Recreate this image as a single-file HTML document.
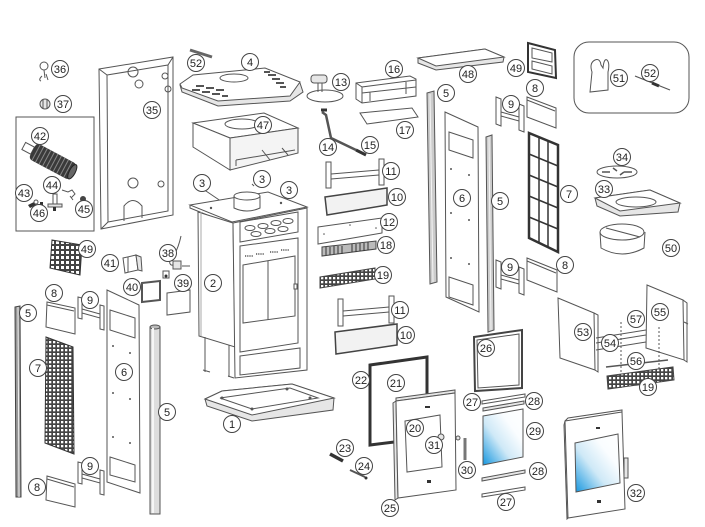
<!DOCTYPE html>
<html><head><meta charset="utf-8"><style>
html,body{margin:0;padding:0;background:#fff;}
svg{display:block;}
.p{fill:#fff;stroke:#555;stroke-width:1;}
.g{fill:#e6e6e6;stroke:#555;stroke-width:1;}
.d{fill:#999;stroke:#444;stroke-width:1;}
.n{fill:none;stroke:#555;stroke-width:1;}
.l circle{fill:#fff;stroke:#444;stroke-width:1;}
.l text{font-family:"Liberation Sans",sans-serif;font-size:11px;fill:#222;text-anchor:middle;}
</style></head><body>
<svg width="705" height="527" viewBox="0 0 705 527" xmlns="http://www.w3.org/2000/svg">
<defs>
<linearGradient id="gl" x1="0" y1="1" x2="1" y2="0">
<stop offset="0" stop-color="#1596df"/><stop offset="0.4" stop-color="#cfe9f7"/><stop offset="0.7" stop-color="#fafdff"/><stop offset="1" stop-color="#fff"/>
</linearGradient>
<pattern id="grid" width="4" height="4" patternUnits="userSpaceOnUse"><rect width="4" height="4" fill="#444"/><rect x="1" y="1" width="2.3" height="2.3" fill="#fff"/></pattern>
<pattern id="grid2" width="5" height="5" patternUnits="userSpaceOnUse"><rect width="5" height="5" fill="#444"/><rect x="1" y="1" width="3" height="3" fill="#fff"/></pattern>
</defs>

<circle cx="44" cy="66" r="4" class="p"/>
<path d="M44 70 L45 78 M42 76 Q38 80 41 81 M46 74 L48 80" class="n"/>
<ellipse cx="45" cy="104" rx="5" ry="5" class="g"/>
<path d="M43 99 L43 109 M47 99 L47 109" class="n"/>

<rect x="16" y="117" width="78" height="114" class="n"/>
<g transform="rotate(28 52 161)">
<rect x="20" y="157" width="10" height="8" class="p"/>
<rect x="30" y="152" width="46" height="18" rx="4" fill="#3a3a3a"/>
<path d="M34 152v18M38 152v18M42 152v18M46 152v18M50 152v18M54 152v18M58 152v18M62 152v18M66 152v18M70 152v18" stroke="#888" stroke-width="1"/>
<ellipse cx="75" cy="161" rx="3" ry="8" fill="#666" stroke="#222"/>
</g>
<path d="M28 205 l6 -3 l2 3 l-6 3 z" fill="#333"/>
<circle cx="36" cy="202" r="2" class="p"/>
<rect x="40" y="202" width="3" height="3" fill="#333"/>
<path d="M62 190 l6 2 l4 -2 l3 4 l-4 4 M70 196 l3 4" class="n"/>
<rect x="53" y="194" width="4" height="12" class="p"/>
<rect x="48" y="204" width="14" height="3" class="g"/>
<rect x="53" y="207" width="3" height="4" fill="#333"/>
<circle cx="83" cy="199" r="3" fill="#444"/>

<polygon points="99,69 173,57 173,215 101,229" class="p"/>
<polygon points="107,75 168,65 168,211 108,222" class="n"/>
<path d="M99 69 L107 75 M173 57 L168 65 M101 229 L108 222" class="n"/>
<circle cx="133" cy="72" r="5" class="n"/><circle cx="139" cy="84" r="4" class="n"/>
<circle cx="165" cy="76" r="3" class="n"/><circle cx="168" cy="89" r="3" class="n"/>
<circle cx="133" cy="183" r="5" class="n"/><circle cx="161" cy="184" r="3" class="n"/>
<path d="M124 221 L124 206 Q133 195 142 206 L142 218" class="n"/>

<line x1="190" y1="50" x2="212" y2="57" stroke="#666" stroke-width="3"/>
<polygon points="180,85 193,76 265,69 300,83 303,92 290,101 218,106 182,92" class="g"/>
<polygon points="180,84 193,75 265,68 300,82 290,96 218,101 182,88" class="p"/>
<ellipse cx="234" cy="78" rx="14" ry="4" class="p"/>
<path d="M192 90h8M202 92h8M212 94h8M196 86h8M206 88h8M216 90h8M268 75h8M272 79h8M276 83h8M264 72h6M280 87h6M222 96h6" stroke="#555" stroke-width="2"/>

<polygon points="193,123 264,113 298,128 230,138" class="p"/>
<polygon points="193,123 230,138 230,170 193,147" class="p"/>
<polygon points="230,138 298,128 298,153 230,170" fill="#f4f4f4" stroke="#555"/>
<path d="M236 160 L295 150 M236 160 L236 166 M262 150 L270 160 M282 148 L288 155" class="n"/>
<ellipse cx="242" cy="124" rx="17" ry="5" class="p"/>

<rect x="311" y="75" width="16" height="8" rx="3" class="g"/>
<ellipse cx="325" cy="96" rx="18" ry="6" class="p"/>
<path d="M318 83 L318 92 M322 83 L322 92" class="n"/>
<path d="M322 112 L326 115 L331 138 L356 150" stroke="#555" stroke-width="2.5" fill="none"/>
<path d="M321 110 h6" stroke="#333" stroke-width="3"/>
<line x1="356" y1="150" x2="366" y2="155" stroke="#333" stroke-width="3"/>
<polygon points="356,83 410,76 416,79 416,96 362,103 356,99" class="p"/>
<path d="M362 103 L362 87 L416 80 M362 93 L416 87 M356 83 L362 87 M370 92 L370 101 M406 82 L406 94" class="n"/>
<polygon points="360,113 412,108 418,117 367,124" class="p"/>
<rect x="326" y="162" width="5" height="26" class="p"/>
<rect x="379" y="159" width="5" height="26" class="p"/>
<path d="M331 174 L379 170 M331 179 L379 175" class="n"/>
<polygon points="325,197 387,188 387,205 327,215" fill="#f2f2f2" stroke="#444" stroke-width="1.5"/>
<polygon points="318,227 382,218 382,233 318,244" class="p"/>
<circle cx="324" cy="234" r="0.8" fill="#555"/><circle cx="350" cy="225" r="0.8" fill="#555"/><circle cx="376" cy="228" r="0.8" fill="#555"/>
<polygon points="322,247 376,241 376,249 322,256" fill="#bbb" stroke="#444"/>
<path d="M326 247v8M330 247v8M334 246v8M338 246v8M342 246v8M352 244v8M356 244v8M360 243v8M364 243v8M368 242v8" stroke="#333"/>
<polygon points="320,277 375,268 375,279 320,288" fill="url(#grid)" stroke="#444"/>
<rect x="338" y="299" width="5" height="27" class="p"/>
<rect x="389" y="296" width="5" height="27" class="p"/>
<path d="M343 311 L389 307 M343 316 L389 312" class="n"/>
<polygon points="335,332 397,324 397,345 336,354" fill="#f2f2f2" stroke="#444" stroke-width="1.5"/>

<path d="M203 189 L237 212 M252 184 L254 186 M281 197 L286 201" class="n"/>
<polygon points="190,205 268,192 307,207 232,222" class="p"/>
<path d="M232 222 L232 225 L190 208 L190,205" class="n"/>
<path d="M234 196 L234 208 Q247 214 260 208 L260 196" class="p"/>
<ellipse cx="247" cy="196" rx="13" ry="4" class="p"/>
<circle cx="211" cy="208" r="1.2" fill="#555"/><circle cx="281" cy="203" r="1.2" fill="#555"/>
<polygon points="198,212 233,223 235,347 199,336" class="p"/>
<path d="M201 212 L201 336" stroke="#aaa"/>
<polygon points="233,223 307,208 307,370 235,378" class="p"/>
<polygon points="240,222 298,212 298,232 240,242" class="n"/>
<ellipse cx="250" cy="228" rx="5" ry="2.5" class="n"/><ellipse cx="263" cy="226" rx="5" ry="2.5" class="n"/><ellipse cx="276" cy="223" rx="5" ry="2.5" class="n"/><ellipse cx="288" cy="221" rx="5" ry="2.5" class="n"/>
<ellipse cx="256" cy="234" rx="5" ry="2.5" class="n"/><ellipse cx="270" cy="231" rx="5" ry="2.5" class="n"/><ellipse cx="283" cy="229" rx="5" ry="2.5" class="n"/>
<polygon points="240,246 298,238 298,343 240,352" class="n"/>
<path d="M245 256h8M256 254h8M270 252h8M281 250h8" stroke="#555" stroke-width="1.5" stroke-dasharray="1.2 1"/>
<polygon points="243,265 295,256 295,316 243,323" class="n"/>
<line x1="268" y1="261" x2="268" y2="320" class="n"/>
<rect x="294" y="284" width="3" height="5" class="p"/>
<polygon points="240,356 300,348 300,368 240,375" class="n"/>
<path d="M205 337 L205 372 M229 345 L229 377 M203 370 L210 372 M228 376 L234 378" class="n"/>
<polygon points="205,399 222,391 292,384 334,398 333,410 252,421 207,406" class="g"/>
<polygon points="205,399 222,391 292,384 334,398 252,415" class="p"/>
<polygon points="220,398 290,388 318,398 252,409" class="n"/>
<circle cx="222" cy="398" r="1.5" fill="#555"/><circle cx="287" cy="389" r="1.5" fill="#555"/><circle cx="310" cy="398" r="1.5" fill="#555"/><circle cx="252" cy="409" r="1.5" fill="#555"/>

<polygon points="52,240 82,245 80,275 50,268" fill="url(#grid2)" stroke="#333"/>
<polygon points="123,258 136,255 138,270 125,273" class="p"/>
<polygon points="136,255 141,257 142,271 138,270" class="g"/>
<path d="M128 257 L128 272" class="n"/>
<path d="M181 236 Q178 250 172 258 M170 258 Q168 268 176 264 M182 266 h8" class="n"/>
<rect x="173" y="261" width="8" height="8" class="g"/>
<rect x="163" y="271" width="6" height="7" class="p"/><circle cx="166" cy="276" r="1.5" fill="#333"/>
<polygon points="142,283 160,281 160,300 142,302" fill="#fff" stroke="#555" stroke-width="2"/>
<polygon points="167,293 190,290 190,312 167,315" class="p"/>
<polygon points="47,302 75,308 75,334 46,327" class="p"/>
<path d="M47 305 L74 311" class="n"/>
<polygon points="78,297 82,298 82,319 78,318" class="p"/>
<polygon points="100,305 104,306 104,330 100,329" class="p"/>
<polygon points="82,309 100,314 100,318 82,313" class="p"/>
<polygon points="15,307 20,306 21,497 16,497" class="d"/>
<line x1="18" y1="307" x2="19" y2="497" stroke="#eee"/>
<polygon points="46,337 73,347 74,454 45,443" fill="url(#grid)" stroke="#333"/>
<polygon points="107,290 139,305 140,493 107,482" class="p"/>
<polygon points="110,310 135,318 135,338 110,330" class="n"/>
<polygon points="110,457 135,465 135,482 110,475" class="n"/>
<circle cx="113" cy="346" r="1" fill="#555"/><circle cx="130" cy="353" r="1" fill="#555"/><circle cx="113" cy="393" r="1" fill="#555"/><circle cx="130" cy="399" r="1" fill="#555"/><circle cx="113" cy="437" r="1" fill="#555"/><circle cx="130" cy="443" r="1" fill="#555"/>
<rect x="150" y="327" width="10" height="187" fill="#ddd" stroke="#555"/>
<ellipse cx="155" cy="327" rx="5" ry="2" fill="#bbb" stroke="#555"/>
<line x1="153" y1="328" x2="153" y2="513" stroke="#f6f6f6" stroke-width="2"/>
<polygon points="78,462 82,463 82,484 78,483" class="p"/>
<polygon points="100,470 104,471 104,495 100,494" class="p"/>
<polygon points="82,474 100,479 100,483 82,478" class="p"/>
<polygon points="47,476 75,484 75,507 46,500" class="p"/>
<path d="M47 479 L74 487" class="n"/>

<polygon points="418,58 485,49 504,57 503,62 436,70 418,63" class="g"/>
<polygon points="418,58 485,49 504,57 436,66" class="p"/>
<polygon points="528,43 555,50 556,78 528,72" fill="#fff" stroke="#333" stroke-width="2"/>
<polygon points="532,48 552,53 552,62 532,58" class="n"/>
<polygon points="532,61 552,66 552,74 532,69" class="n"/>
<polygon points="427,93 434,91 437,282 430,284" fill="#ccc" stroke="#555"/>
<line x1="430" y1="94" x2="433" y2="282" stroke="#f5f5f5"/>
<polygon points="445,112 478,127 479,312 446,297" class="p"/>
<polygon points="449,132 473,140 473,158 449,150" class="n"/>
<polygon points="449,277 473,285 473,305 449,297" class="n"/>
<circle cx="451" cy="169" r="1" fill="#555"/><circle cx="469" cy="175" r="1" fill="#555"/><circle cx="451" cy="213" r="1" fill="#555"/><circle cx="469" cy="220" r="1" fill="#555"/><circle cx="451" cy="258" r="1" fill="#555"/><circle cx="469" cy="264" r="1" fill="#555"/>
<polygon points="486,137 492,135 494,330 488,332" fill="#ccc" stroke="#555"/>
<line x1="489" y1="137" x2="491" y2="330" stroke="#f5f5f5"/>
<polygon points="496,97 501,99 501,126 496,124" class="p"/>
<polygon points="519,104 524,106 524,132 519,130" class="p"/>
<polygon points="501,112 519,117 519,121 501,116" class="p"/>
<polygon points="527,97 556,108 556,128 527,117" class="p"/>
<path d="M527 100 L555 111" class="n"/>
<polygon points="529,133 558,145 558,252 529,238" fill="#fff" stroke="#333" stroke-width="2.5"/>
<path d="M539 137 L539 243 M548 141 L548 247 M529 154 L558 166 M529 175 L558 187 M529 196 L558 208 M529 217 L558 229" stroke="#333" stroke-width="1.5" fill="none"/>
<polygon points="496,260 501,262 501,289 496,287" class="p"/>
<polygon points="519,267 524,269 524,295 519,293" class="p"/>
<polygon points="501,275 519,280 519,284 501,279" class="p"/>
<polygon points="527,258 557,270 557,292 527,280" class="p"/>
<path d="M527 261 L556 273" class="n"/>

<rect x="574" y="42" width="115" height="71" rx="15" class="n"/>
<path d="M590 92 L592 72 Q589 63 595 60 Q600 58 601 65 L603 68 Q604 58 607 60 Q610 63 608 72 L608 90 Z" class="p"/>
<line x1="635" y1="76" x2="670" y2="90" stroke="#555" stroke-width="1.2"/>
<line x1="652" y1="83" x2="659" y2="86" stroke="#333" stroke-width="3"/>

<ellipse cx="617" cy="172" rx="20" ry="6" class="p"/>
<path d="M602 172 h8 M624 172 h8 M613 168 l4 3 M620 175 l4 -3" stroke="#555" stroke-width="1.5"/>
<polygon points="595,198 650,190 680,203 678,212 620,216 597,206" class="g"/>
<polygon points="595,198 650,190 680,203 620,211" class="p"/>
<ellipse cx="636" cy="202" rx="20" ry="5" class="n"/>
<path d="M600 232 L601 248 Q622 260 644 248 L645 232" class="p"/>
<ellipse cx="622" cy="232" rx="22" ry="8" class="p"/>
<line x1="606" y1="228" x2="640" y2="237" class="n"/>

<polygon points="558,298 594,313 595,370 560,358" class="p"/>
<path d="M594 313 L598 315 L598 372 L595 370" class="n"/>
<polygon points="647,285 683,300 684,360 646,348" class="p"/>
<path d="M683 300 L687 303 L687 362 L684 360 M684 322 L688 324" class="n"/>
<path d="M596 338 L646 330 M596 343 L646 335 M596 350 L646 342" class="n"/>
<path d="M621 322 L621 388 M659 327 L659 378" stroke="#555" stroke-dasharray="2 2"/>
<line x1="606" y1="367" x2="668" y2="360" stroke="#555" stroke-width="1.5"/>
<polygon points="607,376 673,367 674,380 608,389" fill="url(#grid)" stroke="#444"/>
<polygon points="565,421 622,412 625,509 568,518" class="p"/>
<path d="M565 421 L568 418 L622 410 L622 412 M565 421 L564 425 L567 519 L568 518" class="n"/>
<polygon points="575,443 618,434 620,483 576,492" fill="url(#gl)" stroke="#555"/>
<rect x="624" y="458" width="4" height="20" class="g"/>
<rect x="596" y="427" width="4" height="2" fill="#333"/>
<rect x="597" y="500" width="4" height="3" fill="#333"/>

<polygon points="370,365 427,357 427,438 370,445" fill="none" stroke="#333" stroke-width="3"/>
<path d="M330 454 L343 461" stroke="#333" stroke-width="3.5"/>
<path d="M350 470 L365 477" stroke="#555" stroke-width="2"/>
<circle cx="366" cy="478" r="1.5" fill="#333"/>
<polygon points="393,403 396,401 398,498 395,500" class="g"/>
<polygon points="396,398 455,390 455,393 396,401" class="g"/>
<polygon points="396,401 455,393 456,490 398,498" class="p"/>
<polygon points="405,421 440,415 442,467 407,472" class="n"/>
<rect x="425" y="406" width="5" height="2" fill="#333"/>
<rect x="427" y="480" width="4" height="3" fill="#333"/>
<circle cx="441" cy="437" r="3" class="g"/>
<circle cx="458" cy="438" r="2" class="g"/>
<line x1="465" y1="438" x2="465" y2="460" stroke="#777" stroke-width="3"/>
<polygon points="474,337 522,330 522,388 475,391" fill="#fff" stroke="#444" stroke-width="2"/>
<polygon points="477,340 519,334 519,385 478,388" class="n"/>
<polygon points="482,401 525,394 525,397 482,404" class="p"/>
<polygon points="483,408 524,401 524,404 483,411" class="g"/>
<polygon points="483,416 523,409 523,457 483,465" fill="url(#gl)" stroke="#555"/>
<polygon points="482,478 525,470 525,473 482,481" class="g"/>
<polygon points="482,494 525,487 525,490 482,497" class="p"/>

<g class="l">
<circle cx="60" cy="69" r="8.5"/><text x="60" y="73">36</text>
<circle cx="63" cy="104" r="8.5"/><text x="63" y="108">37</text>
<circle cx="196" cy="63" r="8.5"/><text x="196" y="67">52</text>
<circle cx="250" cy="62" r="8.5"/><text x="250" y="66">4</text>
<circle cx="152" cy="110" r="8.5"/><text x="152" y="114">35</text>
<circle cx="263" cy="125" r="8.5"/><text x="263" y="129">47</text>
<circle cx="341" cy="82" r="8.5"/><text x="341" y="86">13</text>
<circle cx="394" cy="69" r="8.5"/><text x="394" y="73">16</text>
<circle cx="468" cy="74" r="8.5"/><text x="468" y="78">48</text>
<circle cx="516" cy="68" r="8.5"/><text x="516" y="72">49</text>
<circle cx="619" cy="78" r="8.5"/><text x="619" y="82">51</text>
<circle cx="650" cy="73" r="8.5"/><text x="650" y="77">52</text>
<circle cx="40" cy="136" r="8.5"/><text x="40" y="140">42</text>
<circle cx="446" cy="93" r="8.5"/><text x="446" y="97">5</text>
<circle cx="511" cy="104" r="8.5"/><text x="511" y="108">9</text>
<circle cx="535" cy="88" r="8.5"/><text x="535" y="92">8</text>
<circle cx="405" cy="130" r="8.5"/><text x="405" y="134">17</text>
<circle cx="328" cy="147" r="8.5"/><text x="328" y="151">14</text>
<circle cx="370" cy="145" r="8.5"/><text x="370" y="149">15</text>
<circle cx="24" cy="193" r="8.5"/><text x="24" y="197">43</text>
<circle cx="52" cy="185" r="8.5"/><text x="52" y="189">44</text>
<circle cx="84" cy="209" r="8.5"/><text x="84" y="213">45</text>
<circle cx="39" cy="213" r="8.5"/><text x="39" y="217">46</text>
<circle cx="202" cy="183" r="8.5"/><text x="202" y="187">3</text>
<circle cx="262" cy="179" r="8.5"/><text x="262" y="183">3</text>
<circle cx="289" cy="190" r="8.5"/><text x="289" y="194">3</text>
<circle cx="391" cy="171" r="8.5"/><text x="391" y="175">11</text>
<circle cx="397" cy="197" r="8.5"/><text x="397" y="201">10</text>
<circle cx="389" cy="222" r="8.5"/><text x="389" y="226">12</text>
<circle cx="386" cy="245" r="8.5"/><text x="386" y="249">18</text>
<circle cx="383" cy="275" r="8.5"/><text x="383" y="279">19</text>
<circle cx="213" cy="283" r="8.5"/><text x="213" y="287">2</text>
<circle cx="462" cy="198" r="8.5"/><text x="462" y="202">6</text>
<circle cx="500" cy="201" r="8.5"/><text x="500" y="205">5</text>
<circle cx="569" cy="194" r="8.5"/><text x="569" y="198">7</text>
<circle cx="622" cy="157" r="8.5"/><text x="622" y="161">34</text>
<circle cx="604" cy="189" r="8.5"/><text x="604" y="193">33</text>
<circle cx="671" cy="248" r="8.5"/><text x="671" y="252">50</text>
<circle cx="510" cy="267" r="8.5"/><text x="510" y="271">9</text>
<circle cx="565" cy="265" r="8.5"/><text x="565" y="269">8</text>
<circle cx="87" cy="249" r="8.5"/><text x="87" y="253">49</text>
<circle cx="110" cy="263" r="8.5"/><text x="110" y="267">41</text>
<circle cx="168" cy="253" r="8.5"/><text x="168" y="257">38</text>
<circle cx="132" cy="287" r="8.5"/><text x="132" y="291">40</text>
<circle cx="183" cy="283" r="8.5"/><text x="183" y="287">39</text>
<circle cx="54" cy="293" r="8.5"/><text x="54" y="297">8</text>
<circle cx="90" cy="300" r="8.5"/><text x="90" y="304">9</text>
<circle cx="28" cy="313" r="8.5"/><text x="28" y="317">5</text>
<circle cx="38" cy="368" r="8.5"/><text x="38" y="372">7</text>
<circle cx="124" cy="372" r="8.5"/><text x="124" y="376">6</text>
<circle cx="167" cy="412" r="8.5"/><text x="167" y="416">5</text>
<circle cx="90" cy="466" r="8.5"/><text x="90" y="470">9</text>
<circle cx="37" cy="487" r="8.5"/><text x="37" y="491">8</text>
<circle cx="400" cy="310" r="8.5"/><text x="400" y="314">11</text>
<circle cx="406" cy="335" r="8.5"/><text x="406" y="339">10</text>
<circle cx="583" cy="332" r="8.5"/><text x="583" y="336">53</text>
<circle cx="660" cy="312" r="8.5"/><text x="660" y="316">55</text>
<circle cx="636" cy="319" r="8.5"/><text x="636" y="323">57</text>
<circle cx="610" cy="343" r="8.5"/><text x="610" y="347">54</text>
<circle cx="636" cy="361" r="8.5"/><text x="636" y="365">56</text>
<circle cx="648" cy="387" r="8.5"/><text x="648" y="391">19</text>
<circle cx="361" cy="380" r="8.5"/><text x="361" y="384">22</text>
<circle cx="396" cy="383" r="8.5"/><text x="396" y="387">21</text>
<circle cx="486" cy="348" r="8.5"/><text x="486" y="352">26</text>
<circle cx="232" cy="424" r="8.5"/><text x="232" y="428">1</text>
<circle cx="472" cy="402" r="8.5"/><text x="472" y="406">27</text>
<circle cx="534" cy="401" r="8.5"/><text x="534" y="405">28</text>
<circle cx="415" cy="428" r="8.5"/><text x="415" y="432">20</text>
<circle cx="434" cy="445" r="8.5"/><text x="434" y="449">31</text>
<circle cx="535" cy="431" r="8.5"/><text x="535" y="435">29</text>
<circle cx="345" cy="448" r="8.5"/><text x="345" y="452">23</text>
<circle cx="364" cy="466" r="8.5"/><text x="364" y="470">24</text>
<circle cx="467" cy="470" r="8.5"/><text x="467" y="474">30</text>
<circle cx="538" cy="471" r="8.5"/><text x="538" y="475">28</text>
<circle cx="506" cy="502" r="8.5"/><text x="506" y="506">27</text>
<circle cx="390" cy="508" r="8.5"/><text x="390" y="512">25</text>
<circle cx="636" cy="493" r="8.5"/><text x="636" y="497">32</text>
</g>
</svg>
</body></html>
